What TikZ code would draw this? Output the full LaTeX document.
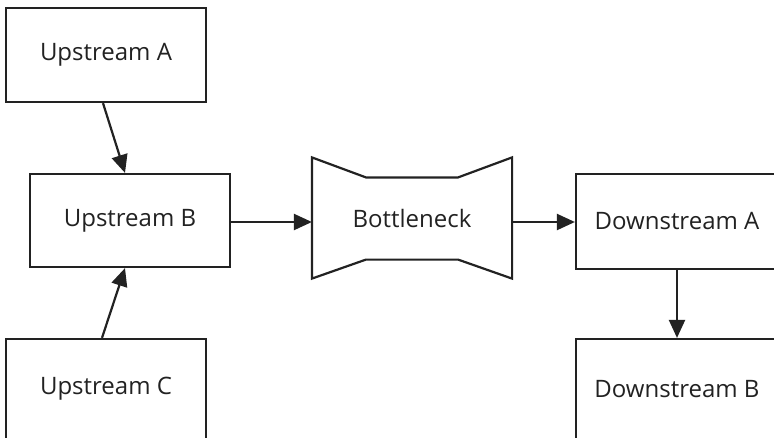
\documentclass[tikz,border=0pt]{standalone}
\usepackage{fontspec}
\setmainfont{Open Sans}
\usetikzlibrary{arrows.meta,calc}
\definecolor{ink}{HTML}{222222}
\begin{document}
\begin{tikzpicture}[x=1pt,y=-1pt,
  box/.style={draw=ink,line width=2.2pt,fill=white,minimum width=200pt,minimum height=94pt,inner sep=0pt,font=\fontsize{24}{28}\selectfont,text=ink},
  conn/.style={draw=ink,line width=2.2pt,-{Triangle[length=18pt,width=16pt]}}]
\useasboundingbox (0,0) rectangle (774,437);
\node[box] (ua) at (106,55) {Upstream A};
\node[box,minimum height=93pt] (ub) at (130,220.5) {Upstream B};
\node[box,minimum height=100pt] (uc) at (106,389) {Upstream C};
\node[box,minimum width=202pt,minimum height=95pt] (da) at (677,221.5) {Downstream A};
\node[box,minimum width=202pt,minimum height=100pt] (db) at (677,389) {Downstream B};
\node[box,draw=none,fill=none,minimum width=198pt,minimum height=119pt] (bn) at (412,218) {Bottleneck};
\draw[ink,line width=2.2pt,line join=miter]
  (bn.north west) -- ($(bn.north west)+(54,20)$) -- ($(bn.north east)+(-54,20)$) -- (bn.north east)
  -- (bn.south east) -- ($(bn.south east)+(-54,-19)$) -- ($(bn.south west)+(54,-19)$) -- (bn.south west) -- cycle;
\draw[conn] ($(ua.south)+(-3,0)$) -- ($(ub.north)+(-5,0)$);
\draw[conn] ($(uc.north)+(-4,0)$) -- ($(ub.south)+(-5,0)$);
\draw[conn] (ub.east |- 0,222) -- (bn.west |- 0,222);
\draw[conn] (bn.east |- 0,222) -- (da.west |- 0,222);
\draw[conn] (da.south) -- (db.north);
\end{tikzpicture}
\end{document}
